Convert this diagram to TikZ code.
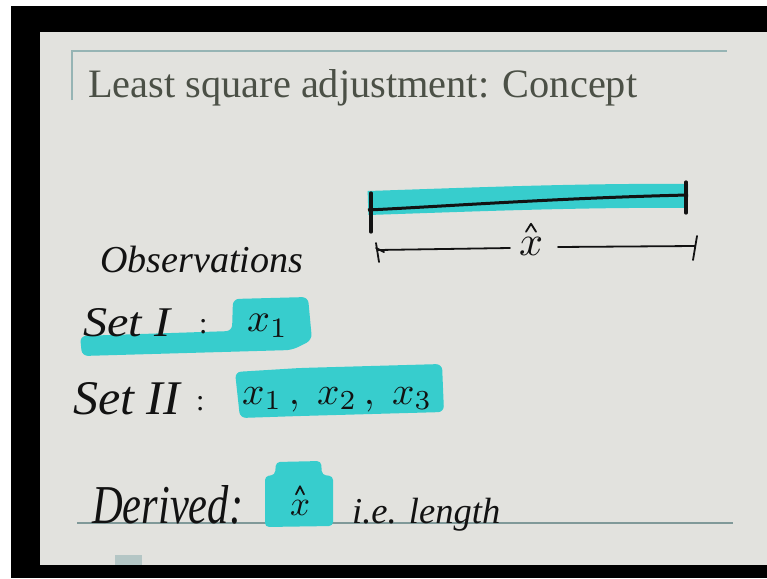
\documentclass[tikz,border=0pt]{standalone}
\usepackage{fontspec}
\setmainfont{Liberation Serif}
\usepackage{graphicx}
\definecolor{slide}{RGB}{226,226,222}
\definecolor{hl}{RGB}{55,205,205}
\definecolor{framec}{RGB}{150,180,180}
\definecolor{ttl}{RGB}{75,80,70}
\definecolor{ink}{RGB}{18,18,18}
\tikzset{
  hand/.style={inner sep=0pt, anchor=base west, text=ink, font=\itshape},
  colon/.style={inner sep=0pt, anchor=base west, text=ink, font=\fontsize{30}{30}\selectfont},
  pen/.style={draw=ink, line width=2.6pt, line cap=round},
  thinpen/.style={draw=ink, line width=1.8pt, line cap=round, line join=round}
}
\begin{document}
\begin{tikzpicture}[x=1pt,y=-1pt]
\useasboundingbox (0,0) rectangle (767,578);
% background layers
\fill[white] (0,0) rectangle (767,578);
\fill[black] (11,6) rectangle (767,578);
\fill[slide] (40,32) rectangle (767,565);
% title frame
\draw[framec, line width=2.5pt] (72,100) -- (72,51) -- (727,51);
\node[anchor=base west, inner sep=0pt, text=ttl] (title) at (88,97)
  {\resizebox{549pt}{!}{Least square adjustment: Concept}};

% top diagram: highlighted bar
\coordinate (barL) at (368,203);
\coordinate (barR) at (688,196);
\draw[hl, line width=24pt] (barL) .. controls (460,200) and (580,195) .. (barR);
\draw[ink, line width=3pt] (368,210) .. controls (450,206) and (560,198) .. (688,195);
\draw[pen, line width=3.2pt] (371,193) -- (371,232);
\draw[pen, line width=3.2pt] (686,182) -- (686,213);

% dimension line with x-hat
\node[inner sep=0pt, text=ink] (xh) at (531,246) {\resizebox{24pt}{!}{$x$}};
\draw[thinpen] ([xshift=-5pt,yshift=5pt]xh.north) -- ([yshift=13pt]xh.north) -- ([xshift=5pt,yshift=5pt]xh.north);
\coordinate (dL) at (378,250);
\coordinate (dR) at (695,246);
\draw[thinpen] (dL) -- (510,248);
\draw[thinpen] (558,247) -- (dR);
\draw[thinpen] (376,243) -- (379,262);
\draw[thinpen] (376,248) -- (384,252);
\draw[thinpen] (697,236) -- (693,260);

% Observations
\node[hand] (obs) at (100,272) {\resizebox{203pt}{!}{Observations}};

% Set I
\fill[hl, rounded corners=6pt] (80,336) -- (232,331) -- (233,299) -- (308,297)
   -- (312,340) -- (292,350) -- (82,356) -- cycle;
\node[hand] (set1) at (83,336) {\resizebox{87pt}{28pt}{Set I}};
\node[colon] (c1) at (199,333) {:};
\node[inner sep=0pt, anchor=base west, text=ink] (x1) at (247,331) {\resizebox{41pt}{!}{$x_1$}};

% Set II
\fill[hl, rounded corners=6pt] (235,372) -- (300,368) -- (442,364) -- (444,412)
   -- (300,416) -- (240,418) -- cycle;
\node[hand] (set2) at (73,414) {\resizebox{107pt}{32pt}{Set II}};
\node[colon] (c2) at (196,410) {:};
\node[inner sep=0pt, anchor=base west, text=ink] (x123) at (242,404)
  {\resizebox{190pt}{!}{$x_1\,,\;x_2\,,\;x_3$}};

% Derived
\draw[framec!85!black, line width=1.8pt] (77,523) -- (733,523);
\fill[hl, rounded corners=4pt] (265,476) -- (275,475) -- (276,462) -- (321,461)
   -- (322,475) -- (333,476) -- (333,526) -- (265,527) -- cycle;
\node[hand] (der) at (92,523) {\resizebox{151pt}{38pt}{Derived:}};
\node[inner sep=0pt, text=ink] (xd) at (300,508) {\resizebox{20pt}{!}{$x$}};
\draw[thinpen] ([xshift=-4pt,yshift=6pt]xd.north) -- ([yshift=14pt]xd.north) -- ([xshift=4pt,yshift=6pt]xd.north);
\node[hand] (ie) at (352,523) {\resizebox{148pt}{!}{i.e. length}};

% small marker at bottom left
\fill[framec!60!slide] (115,555) rectangle (142,565);
\end{tikzpicture}
\end{document}
